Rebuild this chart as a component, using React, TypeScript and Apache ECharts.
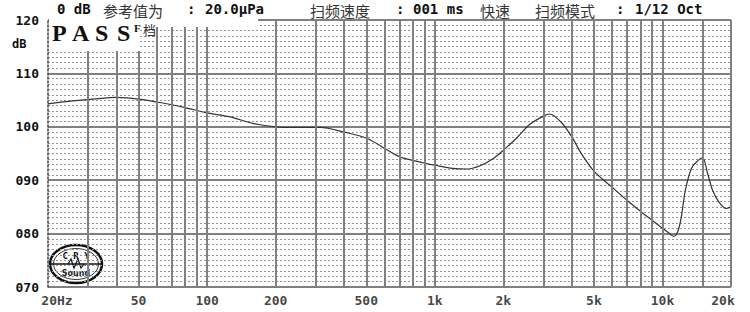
import React, { useEffect, useRef } from 'react';
import * as echarts from 'echarts';

// Frequency response (Hz -> dB)
const FREQS = [20, 25, 31.5, 40, 50, 63, 80, 100, 125, 160, 200, 250, 315, 400, 500, 600, 700, 800, 900, 1000,
  1200, 1400, 1600, 1800, 2000, 2300, 2600, 3000, 3200, 3600, 4000, 4400, 5000, 6000, 7000, 8000, 9000, 10000,
  10600, 11200, 11700, 12100, 12600, 13400, 14100, 15000, 15800, 16600, 17700, 19000, 20000];
const LEVELS = [104.3, 104.8, 105.2, 105.5, 105.2, 104.5, 103.6, 102.6, 101.9, 100.6, 100.0, 99.9, 99.9, 99.0, 97.9, 96.0, 94.4, 93.7, 93.2, 92.8,
  92.2, 92.1, 92.8, 94.0, 95.6, 98.0, 100.4, 102.0, 102.4, 100.8, 98.1, 95.0, 91.7, 88.7, 86.2, 84.2, 82.5, 81.0,
  80.2, 79.5, 80.5, 83.1, 88.1, 92.2, 93.4, 94.2, 91.2, 88.1, 85.9, 84.7, 85.0];

const GRID_FREQS = [30, 40, 50, 60, 70, 80, 90, 100, 200, 300, 400, 500, 600, 700, 800, 900,
  1000, 2000, 3000, 4000, 5000, 6000, 7000, 8000, 9000, 10000, 15000, 20000];
const X_TICKS = [20, 50, 100, 200, 500, 1000, 2000, 5000, 10000, 20000];
const X_TICK_LABELS = ['20Hz', '50', '100', '200', '500', '1k', '2k', '5k', '10k', '20k'];
const Y_MIN = 70;
const Y_MAX = 120;
const Y_STEP = 10;

const MONO = "'DejaVu Sans Mono', 'Liberation Mono', monospace";
const CJK = "'Noto Sans CJK SC', sans-serif";

export default function App() {
  const ref = useRef<HTMLDivElement>(null);
  useEffect(() => {
    const chart = echarts.init(ref.current!, null, { renderer: 'svg' });
    const hdrLatin = (x: number, text: string) => ({
      type: 'text', x, y: 9, z: 100,
      style: { text, font: `bold 14px ${MONO}`, fill: '#111', verticalAlign: 'middle', align: 'left' },
    });
    const hdrCjk = (x: number, text: string) => ({
      type: 'text', x, y: 10, z: 100,
      style: { text, font: `15px ${CJK}`, fill: '#333', verticalAlign: 'middle', align: 'left' },
    });
    const passLetter = (x: number, t: string) => ({
      type: 'text', x, y: 33, z: 101,
      style: { text: t, font: `bold 24px 'Liberation Serif', 'DejaVu Serif', serif`, fill: '#111', verticalAlign: 'middle', align: 'left' },
    });
    chart.setOption({
      animation: false,
      backgroundColor: '#fff',
      grid: { left: 48, top: 20, right: 19, bottom: 25 },
      xAxis: {
        type: 'log', logBase: 10, min: 20, max: 20000,
        axisLine: { show: false }, axisTick: { show: false }, axisLabel: { show: false }, splitLine: { show: false },
      },
      yAxis: {
        type: 'value', min: Y_MIN, max: Y_MAX, interval: Y_STEP,
        axisLine: { show: true, lineStyle: { color: '#444', type: [2, 2], width: 1.5 } },
        axisTick: { show: false },
        axisLabel: {
          formatter: (v: number) => String(v).padStart(3, '0'),
          fontFamily: MONO, fontWeight: 'bold', fontSize: 13, color: '#111', margin: 9,
        },
        splitLine: { show: true, lineStyle: { color: '#808080', width: 2 } },
        minorTick: { show: false, splitNumber: 10 },
        minorSplitLine: { show: true, lineStyle: { color: '#959595', type: [2, 2], width: 1 } },
      },
      series: [
        {
          type: 'line', z: 1, silent: true, showSymbol: false,
          data: [[20, 70]], lineStyle: { opacity: 0 },
          markLine: {
            silent: true, symbol: 'none', animation: false,
            label: { show: false },
            lineStyle: { color: '#808080', width: 2, type: 'solid' },
            data: GRID_FREQS.map((f) => ({ xAxis: f })),
          },
        },
        {
          type: 'scatter', z: 2, silent: true, symbolSize: 0, clip: false,
          data: X_TICKS.map((f, i) => ({
            value: [f, Y_MIN],
            label: i === 0 ? { offset: [9, 0] } : i === X_TICKS.length - 1 ? { offset: [-8, 0] } : {},
          })),
          label: {
            show: true, position: 'bottom', distance: 7,
            formatter: (p: any) => X_TICK_LABELS[p.dataIndex],
            fontFamily: MONO, fontWeight: 'bold', fontSize: 13, color: '#111',
          },
        },
        {
          type: 'line', z: 3, silent: true, showSymbol: false, smooth: 0.3,
          data: FREQS.map((f, i) => [f, LEVELS[i]]),
          lineStyle: { color: '#333', width: 1.2 },
        },
      ],
      graphic: {
        elements: [
          { type: 'rect', z: 99, shape: { x: 49, y: 19, width: 91, height: 32 }, style: { fill: '#fff' } },
          { type: 'rect', z: 99, shape: { x: 140, y: 19, width: 118, height: 8 }, style: { fill: '#fff' } },
          passLetter(52, 'P'), passLetter(72, 'A'), passLetter(95, 'S'), passLetter(117, 'S'),
          { type: 'text', x: 134, y: 28, z: 101, style: { text: 'F', font: `bold 11px 'Liberation Serif', serif`, fill: '#111', verticalAlign: 'middle' } },
          { type: 'text', x: 143, y: 29, z: 101, style: { text: '档', font: `13px ${CJK}`, fill: '#333', verticalAlign: 'middle' } },
          hdrLatin(57, '0 dB'),
          hdrCjk(103, '参考值为'),
          hdrLatin(187, ':'),
          hdrLatin(205, '20.0μPa'),
          hdrCjk(310, '扫频速度'),
          hdrLatin(396, ':'),
          hdrLatin(413, '001 ms'),
          hdrCjk(480, '快速'),
          hdrCjk(535, '扫频模式'),
          hdrLatin(616, ':'),
          hdrLatin(635, '1/12 Oct'),
          { type: 'text', x: 12, y: 44, z: 100, style: { text: 'dB', font: `bold 12px ${MONO}`, fill: '#111', verticalAlign: 'middle' } },
          {
            type: 'group', z: 100,
            children: [
              { type: 'ellipse', shape: { cx: 76, cy: 264, rx: 26, ry: 19 }, style: { fill: 'rgba(255,255,255,0.6)', stroke: '#111', lineWidth: 2.5 } },
              { type: 'ellipse', shape: { cx: 76, cy: 264, rx: 22.5, ry: 15.5 }, style: { fill: 'none', stroke: '#333', lineWidth: 1 } },
              { type: 'line', shape: { x1: 51, y1: 264, x2: 101, y2: 264 }, style: { stroke: '#111', lineWidth: 1.5 } },
              { type: 'text', x: 76, y: 256, style: { text: 'C R Y', font: `bold 9px ${MONO}`, fill: '#111', align: 'center', verticalAlign: 'middle' } },
              { type: 'polyline', shape: { points: [[68, 264], [71, 259], [74, 268], [78, 259], [81, 268], [84, 264]] }, style: { stroke: '#111', lineWidth: 1.2, fill: 'none' } },
              { type: 'text', x: 76, y: 273, style: { text: 'Sound', font: `bold 8px 'DejaVu Sans', sans-serif`, fill: '#222', align: 'center', verticalAlign: 'middle' } },
            ],
          },
        ],
      },
    });
    return () => chart.dispose();
  }, []);
  return (
    <div
      ref={ref}
      style={{ position: 'fixed', left: 0, top: 0, width: 750, height: 312, background: '#fff' }}
    />
  );
}
